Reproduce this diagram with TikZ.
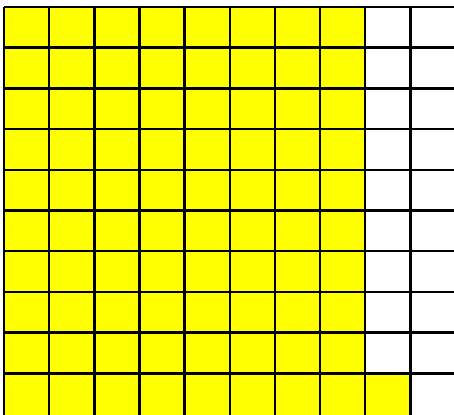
\documentclass[tikz,border=0pt]{standalone}
\definecolor{cellyellow}{RGB}{255,255,0}
\begin{document}
\begin{tikzpicture}[x=1pt,y=-1pt,
  gridline/.style={draw=black,line width=2.4pt}]
\useasboundingbox (0,0) rectangle (454,414);
\clip (0,0) rectangle (454,414);
\def\cw{45.15}
\def\ch{40.7}
% yellow cells: 8 full columns
\fill[cellyellow] (4,7) rectangle ({4+8*\cw},420);
% extra cell: column 9, bottom row
\fill[cellyellow] ({4+8*\cw},{7+9*\ch}) rectangle ({4+9*\cw},420);
% grid lines
\foreach \i in {0,...,10} {
  \draw[gridline] ({4+\i*\cw},7) -- ({4+\i*\cw},420);
}
\foreach \i in {0,...,9} {
  \draw[gridline] (4,{7+\i*\ch}) -- ({4+10*\cw},{7+\i*\ch});
}
\end{tikzpicture}
\end{document}
